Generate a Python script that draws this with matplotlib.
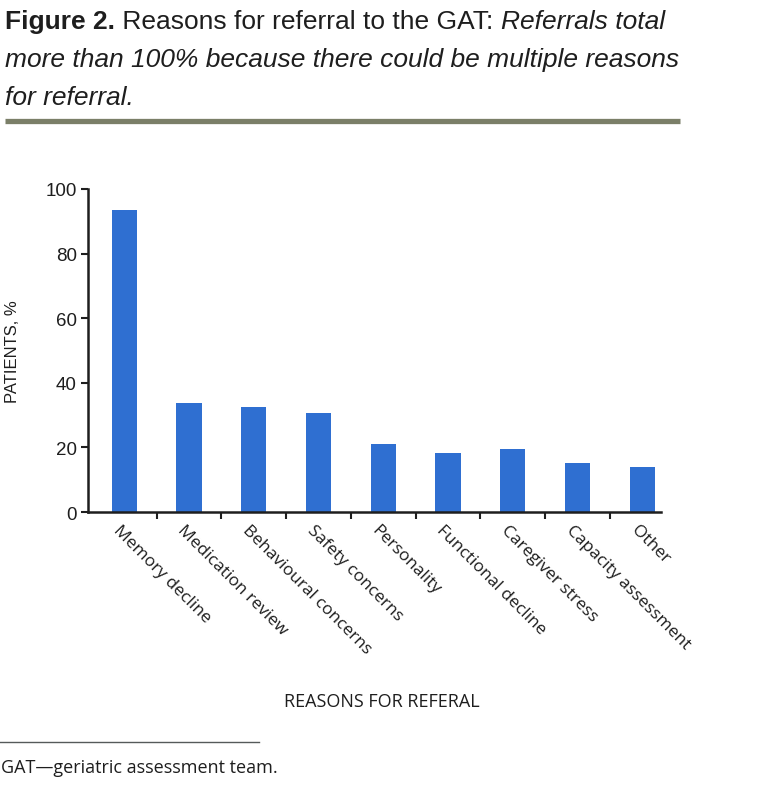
import matplotlib
matplotlib.use("Agg")
import matplotlib.pyplot as plt
from matplotlib import font_manager
import numpy as np

reasons = ["Memory decline", "Medication review", "Behavioural concerns",
           "Safety concerns", "Personality", "Functional decline",
           "Caregiver stress", "Capacity assessment", "Other"]
patients_pct = [93.6, 33.7, 32.4, 30.6, 21.0, 18.2, 19.4, 15.1, 13.9]
y_ticks = [0, 20, 40, 60, 80, 100]

BAR = "#2f6fd1"
INK = "#1e1e1e"


def pick_font(names):
    have = {f.name for f in font_manager.fontManager.ttflist}
    for n in names:
        if n in have:
            return n
    return "DejaVu Sans"


narrow = pick_font(["Liberation Sans Narrow", "DejaVu Sans Condensed", "Liberation Sans"])
sans = pick_font(["Liberation Sans", "DejaVu Sans"])
human = pick_font(["Open Sans", "Noto Sans", "DejaVu Sans"])

fig = plt.figure(figsize=(7.74, 8.04), dpi=100)
W, H = 774, 804
TS = 19

# title, built from pieces so bold / regular / italic can share a line
renderer = fig.canvas.get_renderer()
x = 5
pieces = [("Figure 2.", "bold", "normal"),
          (" Reasons for referral to the GAT: ", "normal", "normal"),
          ("Referrals total", "normal", "italic")]
for txt, wt, st in pieces:
    t = fig.text(x / W, 1 - 29 / H, txt, fontsize=TS, fontweight=wt, fontstyle=st,
                 family=narrow, color=INK, ha="left", va="baseline")
    bb = t.get_window_extent(renderer)
    x += bb.width
fig.text(5 / W, 1 - 67 / H, "more than 100% because there could be multiple reasons",
         fontsize=TS, fontstyle="italic", family=narrow, color=INK, va="baseline")
fig.text(5 / W, 1 - 105 / H, "for referral.",
         fontsize=TS, fontstyle="italic", family=narrow, color=INK, va="baseline")
fig.add_artist(plt.Line2D([5 / W, 680 / W], [1 - 122 / H, 1 - 122 / H],
                          color="#7b7f68", lw=3.8, solid_capstyle="butt"))

# chart
ax = fig.add_axes([88 / W, 1 - 513 / H, (661 - 88) / W, (513 - 190) / H])
pos = np.arange(len(reasons))
ax.bar(pos, patients_pct, width=0.39, color=BAR)
ax.set_xlim(-0.56, len(reasons) - 0.71)
ax.set_ylim(0, 100)
ax.set_yticks(y_ticks)
ax.set_yticklabels([str(v) for v in y_ticks], family=sans, fontsize=13.5, color=INK)
ax.set_xticks(pos[:-1] + 0.5)
ax.set_xticklabels([])
ax.tick_params(axis="both", direction="out", length=5, width=1.5, color=INK, pad=3)
for s in ["top", "right"]:
    ax.spines[s].set_visible(False)
for s in ["left", "bottom"]:
    ax.spines[s].set_linewidth(1.8)
    ax.spines[s].set_color(INK)

for p, lab in zip(pos, reasons):
    ax.text(p - 0.05, -3, lab, rotation=-45, rotation_mode="anchor",
            ha="left", va="top", fontsize=12.5, family=human, color=INK,
            transform=ax.transData, clip_on=False)

ax.set_ylabel("PATIENTS, %", family=sans, fontsize=12, color=INK)
ax.yaxis.set_label_coords(-0.118, 0.5)
fig.text(382 / W, 1 - 702 / H, "REASONS FOR REFERAL", ha="center", va="center",
         fontsize=13, family=human, color=INK)

# footnote
fig.add_artist(plt.Line2D([0, 259 / W], [1 - 743 / H, 1 - 743 / H],
                          color="#555a5a", lw=1.0))
fig.text(1 / W, 1 - 768 / H, "GAT\u2014geriatric assessment team.", ha="left", va="center",
         fontsize=13, family=human, color=INK)

fig.savefig("out.png", dpi=100)
